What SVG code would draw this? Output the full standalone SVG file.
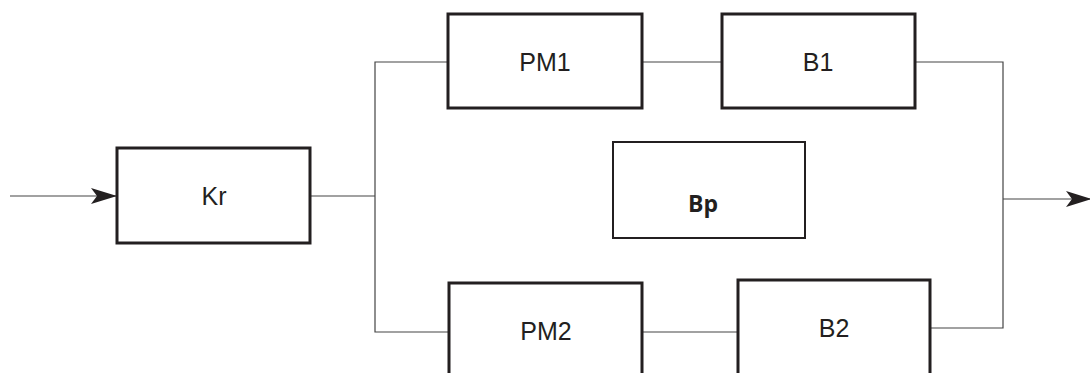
<svg xmlns="http://www.w3.org/2000/svg" width="1090" height="373" viewBox="0 0 1090 373">
<style>
.box{fill:#fff;stroke:#231f20;stroke-width:3}
.thin{fill:#fff;stroke:#231f20;stroke-width:2}
.lbl{font-family:"Liberation Sans",Arial,sans-serif;font-size:25px;fill:#231f20;text-anchor:middle}
.bold{font-family:"Open Sans","Noto Sans",sans-serif;font-size:23px;font-weight:bold;fill:#231f20;text-anchor:middle}
.wire{fill:none;stroke:#444;stroke-width:1.2}
</style>
<defs>
<marker id="arr" viewBox="0 0 26 16" refX="26" refY="8" markerWidth="26" markerHeight="16" markerUnits="userSpaceOnUse" orient="auto">
<path d="M0,0 L26,8 L0,16 L6,8 Z" fill="#231f20"/>
</marker>
</defs>
<g id="connectors">
<line class="wire" x1="10" y1="196" x2="117" y2="196" marker-end="url(#arr)"/>
<polyline class="wire" points="310,196 375,196"/>
<polyline class="wire" points="448,62 375,62 375,332 449,332"/>
<line class="wire" x1="642" y1="62" x2="722" y2="62"/>
<line class="wire" x1="642" y1="332" x2="738" y2="332"/>
<polyline class="wire" points="915,62 1003,62 1003,328 930,328"/>
<line class="wire" x1="1003" y1="199" x2="1092" y2="199" marker-end="url(#arr)"/>
</g>
<g id="Kr"><rect class="box" x="117" y="148" width="193" height="95"/><text class="lbl" x="214" y="205">Kr</text></g>
<g id="PM1"><rect class="box" x="448" y="14" width="194" height="94"/><text class="lbl" x="545" y="71">PM1</text></g>
<g id="B1"><rect class="box" x="722" y="14" width="193" height="94"/><text class="lbl" x="818" y="71">B1</text></g>
<g id="Bp"><rect class="thin" x="613" y="142" width="192" height="96"/><text class="bold" x="703" y="212">Bp</text></g>
<g id="PM2"><rect class="box" x="449" y="283" width="193" height="100"/><text class="lbl" x="546" y="340">PM2</text></g>
<g id="B2"><rect class="box" x="738" y="280" width="192" height="100"/><text class="lbl" x="834" y="337">B2</text></g>
</svg>
